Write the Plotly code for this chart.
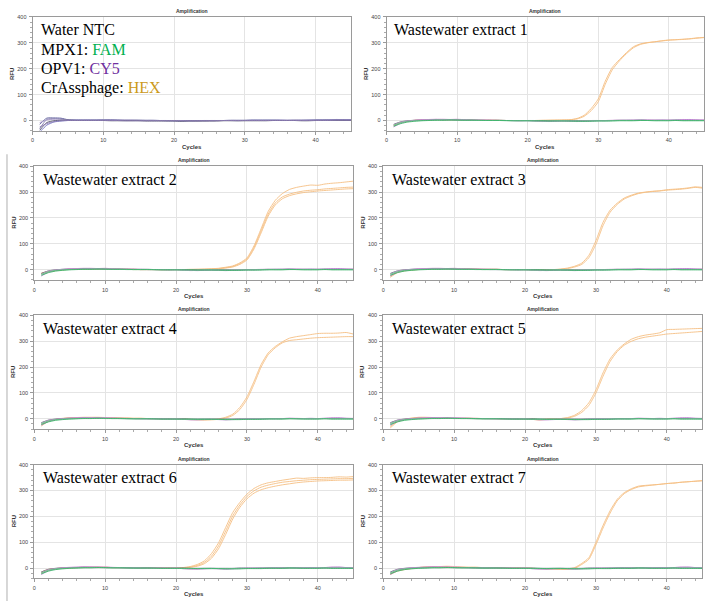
import plotly.graph_objects as go

W, H = 707, 601
CYCLES = list(range(1, 46))

# ---------------- data (RFU per cycle, cycles 1..45) ----------------
# Water NTC traces
ntc_1 = [-45,-18,-6,-2,0,1,1,1,1,1,1,0,0,0,0,0,0,0,-1,-1,-1,-1,-1,0,0,0,0,0,0,0,1,1,1,1,1,0,0,0,1,1,1,2,3,2,2]
ntc_2 = [-32,4,7,6,2,1,1,1,1,2,2,1,1,1,1,0,0,0,0,-1,-2,-1,-1,-1,0,0,0,0,-1,0,1,1,1,1,0,0,1,1,1,1,2,3,4,3,3]
ntc_3 = [-15,9,10,9,3,2,2,2,2,2,2,2,1,1,1,1,1,0,0,0,0,0,0,0,0,0,0,1,1,1,1,1,1,1,1,1,1,1,1,2,2,2,3,3,3]
ntc_4 = [-8,2,5,5,2,1,1,1,1,1,1,1,1,1,0,0,0,0,0,0,0,-1,-1,-1,-1,0,0,0,0,0,0,0,0,0,1,1,1,1,1,1,1,2,2,2,2]
ntc_5 = [-38,-8,-1,1,1,0,0,0,0,0,-1,-1,-1,-1,-1,-2,-2,-2,-2,-2,-3,-2,-2,-2,-2,-2,-1,-1,-1,-1,-1,-1,-1,0,0,0,0,-1,-1,0,0,0,0,0,0]
ntc_6 = [-25,-12,-4,-1,0,0,0,0,0,0,0,0,-1,-1,-1,-1,-1,-1,-1,-1,-1,-1,-1,-1,-1,-1,0,0,0,0,0,0,0,0,0,0,0,0,0,0,0,0,1,1,1]

# Flat FAM / CY5 traces in the wastewater panels
fam_a = [-22,-12,-6,-3,-1,0,1,1,2,2,1,1,1,0,0,0,0,-1,-1,-1,-1,-1,-2,-2,-2,-2,-3,-3,-3,-2,-2,-2,-1,-1,-1,0,0,-1,-1,-1,0,-1,-1,-1,-1]
fam_b = [-18,-8,-3,-1,0,1,2,2,2,1,1,1,0,0,0,0,-1,-1,-1,-1,-2,-2,-2,-1,-1,-2,-2,-2,-1,-1,-1,0,0,0,0,1,0,0,0,0,1,0,0,0,0]
cy5_a = [-25,-10,-3,0,2,3,4,3,3,2,2,1,1,1,0,0,0,0,-1,-1,-2,-3,-4,-3,-2,-3,-4,-3,-2,-1,-1,0,0,1,1,2,1,1,2,1,2,3,4,2,1]
cy5_b = [-18,-6,-2,1,3,4,5,5,4,5,3,2,2,1,1,0,0,-1,-1,0,-2,-4,-3,-2,-1,-2,-3,-2,-1,0,0,1,1,0,1,2,2,1,0,1,2,4,3,2,2]
dark_a = [-15,-5,-1,1,2,2,3,3,3,2,2,2,1,1,1,1,0,0,0,0,0,-1,-1,-1,-1,-1,-1,-1,0,0,0,0,1,1,1,1,1,1,1,1,1,1,1,1,1]

# HEX (CrAssphage) amplification curves
hex1a = [-20,-8,-4,0,2,3,3,3,2,2,2,1,1,1,1,1,0,0,0,0,0,0,1,1,2,3,8,20,46,83,152,205,235,262,285,296,301,304,308,311,312,313,316,319,321]
hex1b = [-18,-7,-3,1,2,3,4,3,3,2,2,2,1,1,1,0,0,0,0,0,0,1,1,2,2,3,6,16,38,72,140,196,230,258,281,294,300,304,307,310,312,314,315,318,320]

hex2a = [-15,-8,-4,-1,1,2,2,2,2,2,1,1,1,1,0,0,0,0,0,0,0,1,1,2,3,5,9,14,26,45,92,158,225,268,294,310,318,323,327,326,331,334,336,339,342]
hex2b = [-14,-7,-3,0,1,2,3,2,2,2,2,1,1,1,0,0,0,0,0,0,0,0,1,1,2,4,7,12,23,41,86,150,215,258,281,292,299,304,307,309,312,314,316,318,319]
hex2c = [-16,-8,-4,-1,1,2,2,2,2,1,1,1,1,0,0,0,0,-1,-1,0,0,0,0,1,2,3,6,10,20,37,80,142,207,250,274,286,293,298,301,304,306,308,310,312,313]

hex3a = [-30,-12,-5,-2,0,2,3,3,3,3,2,2,2,1,1,1,0,0,0,0,0,-1,-1,0,2,6,13,25,55,112,183,230,257,277,288,296,300,303,305,309,311,313,316,320,318]
hex3b = [-25,-10,-4,-1,1,2,3,4,3,3,3,2,2,1,1,1,0,0,0,0,-1,-2,-2,-1,1,4,10,20,46,98,170,222,252,273,285,294,299,302,304,307,309,311,314,318,315]

hex4a = [-28,-10,-3,1,3,4,5,5,5,5,4,3,3,2,2,1,1,0,0,0,-1,-2,-3,-3,-2,0,6,18,44,85,145,210,255,280,298,312,318,322,326,330,331,331,332,334,328]
hex4b = [-22,-8,-2,2,4,5,6,6,6,5,4,3,3,2,2,1,1,0,0,0,-1,-3,-4,-5,-4,-2,3,13,36,75,134,200,248,275,294,303,306,309,312,314,315,316,317,318,318]

hex5a = [-35,-12,-3,2,6,6,5,4,3,2,2,2,2,1,1,1,0,0,-1,-1,0,-3,-1,0,1,5,14,32,62,112,178,232,266,290,308,318,324,328,333,345,346,347,348,349,350]
hex5b = [-30,-10,-2,3,5,5,5,4,3,2,2,2,1,1,1,0,0,0,-1,-1,-2,-5,-2,-1,1,3,10,25,52,100,165,222,260,285,300,310,316,320,324,328,330,332,334,336,338]

hex6a = [-15,-5,-2,0,1,2,3,3,3,3,2,2,2,2,2,1,1,0,0,0,2,6,14,28,56,98,157,215,254,286,308,322,330,335,340,344,348,347,349,350,350,351,353,352,354]
hex6b = [-18,-6,-2,0,1,2,3,3,3,3,2,2,2,2,2,1,1,0,0,0,1,4,10,22,46,86,143,202,244,277,299,313,321,327,332,335,338,340,342,343,344,345,346,346,347]
hex6c = [-20,-7,-3,-1,1,2,2,3,3,3,2,2,2,2,1,1,1,0,0,0,0,3,7,17,38,75,130,190,235,268,290,303,311,317,322,326,330,333,335,337,338,339,340,340,341]

hex7a = [-25,-12,-6,-2,2,5,6,6,7,6,4,3,3,2,2,1,1,0,0,0,-1,-2,-3,-3,-4,-3,2,18,40,100,165,222,266,292,307,317,320,322,324,327,329,332,334,336,338]
hex7b = [-22,-10,-5,-1,2,4,5,6,6,5,4,3,3,2,2,1,1,0,0,0,-1,-2,-3,-4,-5,-5,-1,14,34,90,155,213,260,288,304,314,318,321,324,327,329,332,334,336,338]

PANEL_LABELS = ["Wastewater extract 1", "Wastewater extract 2", "Wastewater extract 3",
                "Wastewater extract 4", "Wastewater extract 5", "Wastewater extract 6",
                "Wastewater extract 7"]
HEX_SETS = [[hex1a, hex1b], [hex2a, hex2b, hex2c], [hex3a, hex3b], [hex4a, hex4b],
            [hex5a, hex5b], [hex6a, hex6b, hex6c], [hex7a, hex7b]]
X_TICKS = [0, 10, 20, 30, 40]
Y_TICKS = [0, 100, 200, 300, 400]

# ---------------- styling ----------------
C_FAM = "#00B050"
C_CY5 = "#7030A0"
C_HEX = "#CC9A1A"
HEX_LINE = "#F5BE82"
NTC_COLORS = ["#6A6ABD", "#8A84B0", "#5A5A9A", "#A898C8", "#505068", "#8C7CB4"]
BASE_LINES = [(dark_a, "#5A5A78"), (cy5_b, "#DA98DA"), (cy5_a, "#B880D0"),
              (fam_b, "#6CC48C"), (fam_a, "#3CB46A")]

ROWS = [(14, 128.5), (164, 278.3), (314, 428.3), (464, 578.3)]
COLS = [[(30.7, 350), (385.7, 704)]] + [[(32.3, 352.3), (382.3, 702.3)]] * 3

TICK_FONT = dict(family="Liberation Sans", size=5.5, color="#444444")
LAB_FONT = dict(family="Liberation Sans", size=6, color="#333333")
SERIF = "Liberation Serif"

fig = go.Figure()
annotations = []
layout_axes = {}

def px(x):
    return x / W

def py(y):
    return 1 - y / H

panels = []
panels.append(("ntc", [(v, NTC_COLORS[i]) for i, v in enumerate([ntc_1, ntc_2, ntc_3, ntc_4, ntc_5, ntc_6])]))
for k in range(7):
    traces = [(h, HEX_LINE) for h in HEX_SETS[k]] + BASE_LINES
    panels.append((PANEL_LABELS[k], traces))

for i, (label, traces) in enumerate(panels):
    r, c = divmod(i, 2)
    y_top, y_bot = ROWS[r]
    x_l, x_r = COLS[r][c]
    n = i + 1
    xa = "x" if n == 1 else f"x{n}"
    ya = "y" if n == 1 else f"y{n}"
    for vals, color in traces:
        fig.add_trace(go.Scatter(x=CYCLES, y=vals, mode="lines",
                                 line=dict(color=color, width=0.9, shape="spline", smoothing=0.6),
                                 xaxis=xa, yaxis=ya, showlegend=False, hoverinfo="skip"))
    common = dict(showline=True, mirror=True, linecolor="#9A9A9A", linewidth=1,
                  showgrid=True, gridcolor="#E4E4E4", gridwidth=1, zeroline=False,
                  ticks="outside", ticklen=3, tickcolor="#9A9A9A", tickwidth=1,
                  tickfont=TICK_FONT, fixedrange=True)
    layout_axes[f"xaxis{'' if n == 1 else n}"] = dict(
        common, domain=[px(x_l), px(x_r)], anchor=ya, range=[0, 45], tickvals=X_TICKS,
        ticklabelstandoff=1,
        minor=dict(ticks="outside", ticklen=2, dtick=2, tick0=0, tickcolor="#AAAAAA", showgrid=False))
    layout_axes[f"yaxis{'' if n == 1 else n}"] = dict(
        common, domain=[py(y_bot), py(y_top)], anchor=xa, range=[-40, 400], tickvals=Y_TICKS,
        ticklabelstandoff=1,
        minor=dict(ticks="outside", ticklen=2, dtick=20, tick0=0, tickcolor="#AAAAAA", showgrid=False))

    xc = (x_l + x_r) / 2
    annotations.append(dict(text="<b>Amplification</b>", x=px(xc), y=py(y_top - 6), xref="paper", yref="paper",
                            showarrow=False, font=dict(family="Liberation Sans", size=5, color="#333333"),
                            xanchor="center", yanchor="middle"))
    annotations.append(dict(text="<b>Cycles</b>", x=px(xc), y=py(y_bot + 16), xref="paper", yref="paper",
                            showarrow=False, font=LAB_FONT, xanchor="center", yanchor="middle"))
    annotations.append(dict(text="<b>RFU</b>", x=px(x_l - 20.5), y=py((y_top + y_bot) / 2), xref="paper",
                            yref="paper", showarrow=False, font=LAB_FONT, textangle=-90,
                            xanchor="center", yanchor="middle"))

    if label == "ntc":
        lines = ["Water NTC",
                 f"MPX1: <span style='color:{C_FAM}'>FAM</span>",
                 f"OPV1: <span style='color:{C_CY5}'>CY5</span>",
                 f"CrAssphage: <span style='color:{C_HEX}'>HEX</span>"]
        for j, t in enumerate(lines):
            annotations.append(dict(text=t, x=px(x_l + 6), y=py(y_top + 13 + 19.5 * j), xref="paper",
                                    yref="paper", showarrow=False, xanchor="left", yanchor="middle",
                                    font=dict(family=SERIF, size=16, color="black")))
    else:
        offx = 5.5 if r == 0 else 6.5
        annotations.append(dict(text=label, x=px(x_l + offx), y=py(y_top + 13), xref="paper", yref="paper",
                                showarrow=False, xanchor="left", yanchor="middle",
                                font=dict(family=SERIF, size=16, color="black")))

fig.update_layout(
    width=W, height=H, margin=dict(l=0, r=0, t=0, b=0),
    paper_bgcolor="white", plot_bgcolor="white",
    annotations=annotations,
    shapes=[dict(type="line", xref="paper", yref="paper", x0=px(5), x1=px(5), y0=py(152), y1=0,
                 line=dict(color="#B0B0B0", width=1))],
    **layout_axes,
)

fig.write_html("out.html", config={"displayModeBar": False, "staticPlot": True},
               post_script="document.body.style.margin='0';document.body.style.overflow='hidden';")
